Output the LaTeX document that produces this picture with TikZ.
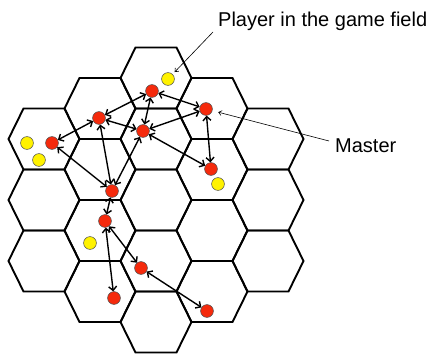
\documentclass[tikz,border=0pt]{standalone}
\usepackage{fontspec}
\setmainfont{Liberation Sans}
\usetikzlibrary{arrows.meta}
\definecolor{dotred}{HTML}{F52A0C}
\definecolor{dotyellow}{HTML}{FFF200}
\tikzset{
  hexedge/.style={line width=1.9pt, line join=miter},
  reddot/.style={circle, draw=black!70, line width=0.5pt, fill=dotred, minimum size=12.8pt, inner sep=0pt},
  yellowdot/.style={circle, draw=black!70, line width=0.5pt, fill=dotyellow, minimum size=12.8pt, inner sep=0pt},
  link/.style={line width=1.4pt, {Straight Barb[length=4pt,width=8pt]}-{Straight Barb[length=4pt,width=8pt]}},
  leader/.style={line width=0.6pt, -{Straight Barb[length=3pt,width=5pt]}},
  label/.style={font=\fontsize{20}{24}\selectfont, inner sep=0pt, anchor=base west}
}
\begin{document}
\begin{tikzpicture}[x=1pt,y=-1pt]
\useasboundingbox (0,0) rectangle (429,356);
% hexagonal field
\foreach \i/\n in {-2/3,-1/4,0/5,1/4,2/3} {
  \foreach \k in {1,...,\n} {
    \pgfmathsetmacro\cx{156+56*\i}
    \pgfmathsetmacro\cy{200-30.5*(\n-1)+61*(\k-1)}
    \draw[hexedge] (\cx,\cy) ++(-20.5,-30.5) -- ++(41,0) -- ++(15,30.5) -- ++(-15,30.5) -- ++(-41,0) -- ++(-15,-30.5) -- cycle;
  }
}
% players
\node[yellowdot] (y1) at (168,79) {};
\node[yellowdot] (y2) at (27,143) {};
\node[yellowdot] (y3) at (39,160) {};
\node[yellowdot] (y4) at (218,184) {};
\node[yellowdot] (y5) at (90,243) {};
% masters
\node[reddot] (a) at (152,91) {};
\node[reddot] (b) at (206,109) {};
\node[reddot] (c) at (99,118) {};
\node[reddot] (d) at (143,131) {};
\node[reddot] (e) at (52,143) {};
\node[reddot] (g) at (211,169) {};
\node[reddot] (f) at (112,191) {};
\node[reddot] (h) at (105,221) {};
\node[reddot] (i) at (141,268) {};
\node[reddot] (j) at (114,298) {};
\node[reddot] (k) at (207,311) {};
% links
\draw[link] (a) -- (b);
\draw[link] (a) -- (c);
\draw[link] (a) -- (d);
\draw[link] (c) -- (d);
\draw[link] (d) -- (b);
\draw[link] (b) -- (g);
\draw[link] (d) -- (g);
\draw[link] (c) -- (e);
\draw[link] (e) -- (f);
\draw[link] (c) -- (f);
\draw[link] (d) -- (f);
\draw[link] (f) -- (h);
\draw[link] (h) -- (i);
\draw[link] (h) -- (j);
\draw[link] (i) -- (k);
% labels
\node[label] (tp) at (218,27) {Player in the game field};
\node[label] (tm) at (335,152) {Master};
\coordinate (lp) at (213,32);
\coordinate (lm) at (329,141);
\draw[leader, shorten >=3pt] (lp) -- (y1);
\draw[leader, shorten >=6pt] (lm) -- (b);
\end{tikzpicture}
\end{document}
